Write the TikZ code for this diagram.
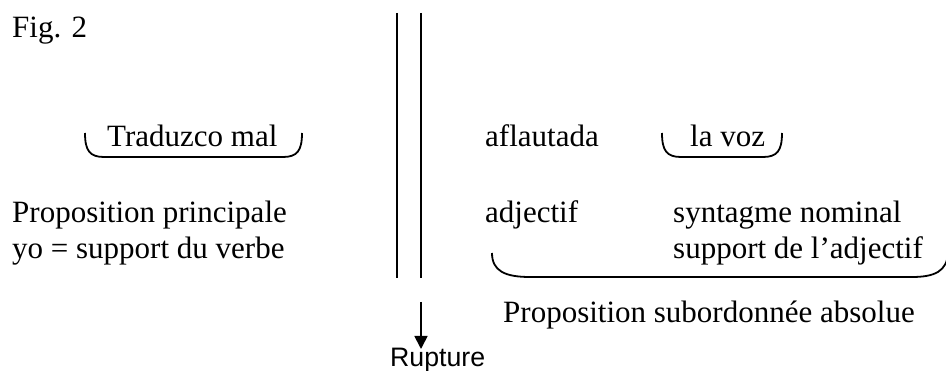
\documentclass[tikz,border=0pt]{standalone}
\usepackage{fontspec}
\setmainfont{Liberation Serif}
\newfontfamily\rupfont{Liberation Sans}
\usetikzlibrary{arrows.meta}
\begin{document}
\begin{tikzpicture}[x=1pt,y=-1pt,
  lbl/.style={anchor=base west,inner sep=0pt,font=\fontsize{31}{36}\selectfont},
  rlbl/.style={anchor=base west,inner sep=0pt,font=\rupfont\fontsize{26.7}{30}\selectfont},
  ln/.style={line width=1.8pt},
  brk/.style={line width=1.8pt}]
\clip (0,0) rectangle (946,371);
\useasboundingbox (0,0) rectangle (946,371);
\node[lbl] (fig) at (12,38) {Fig. 2};
\node[lbl] (trad) at (107,147) {Traduzco mal};
\node[lbl] (afl) at (485,147) {aflautada};
\node[lbl] (voz) at (690,147) {la voz};
\node[lbl] (pp) at (12,223) {Proposition principale};
\node[lbl] (yo) at (12,259) {yo = support du verbe};
\node[lbl] (adj) at (485,223) {adjectif};
\node[lbl] (sn) at (673,223) {syntagme nominal};
\node[lbl] (sup) at (673,259) {support de l’adjectif};
\node[lbl] (psa) at (503,323) {Proposition subordonnée absolue};
\node[rlbl] (rup) at (390,367) {Rupture};
% double vertical line
\coordinate (l1t) at (397,13); \coordinate (l1b) at (397,278);
\coordinate (l2t) at (421,13); \coordinate (l2b) at (421,278);
\draw[ln] (l1t) -- (l1b);
\draw[ln] (l2t) -- (l2b);
% arrow
\coordinate (as) at (421,302); \coordinate (ae) at (421,349);
\draw[ln,-{Triangle[length=13pt,width=13pt]}] (as) -- (ae);
% brackets
\draw[brk] (85,133) .. controls (85,151) and (90,157) .. (104,157) -- (283,157) .. controls (297,157) and (302,151) .. (302,133);
\draw[brk] (662,133) .. controls (662,151) and (667,157) .. (681,157) -- (763,157) .. controls (777,157) and (782,151) .. (782,133);
\draw[brk] (492,253) .. controls (492,271) and (505,277) .. (530,277) -- (912,277) .. controls (935,277) and (947,271) .. (948,253);
\end{tikzpicture}
\end{document}
